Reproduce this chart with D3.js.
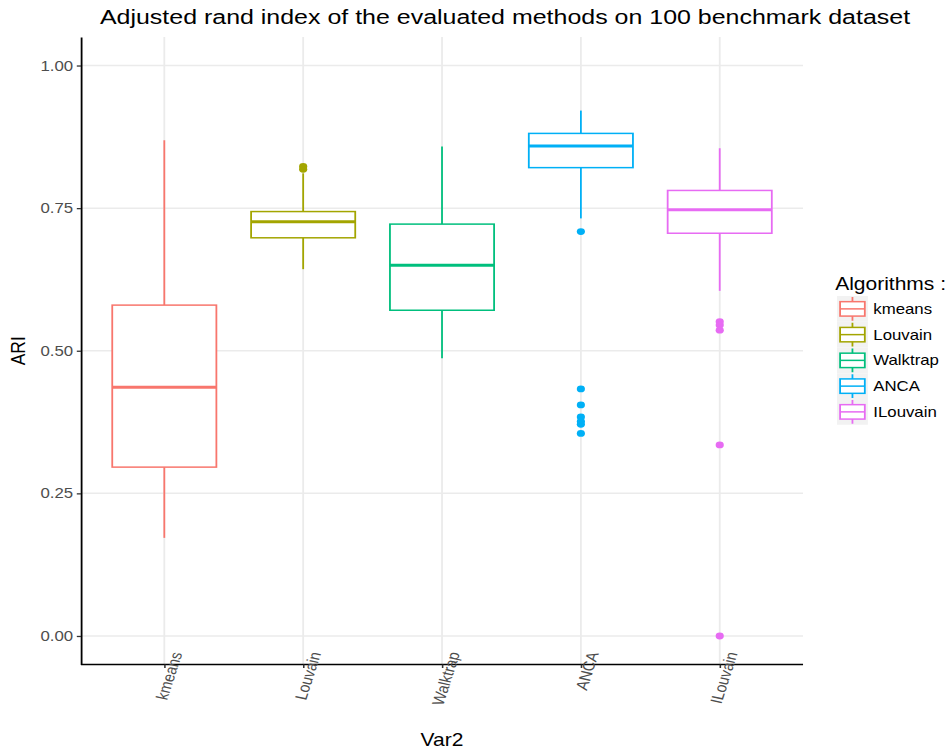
<!DOCTYPE html>
<html>
<head>
<meta charset="utf-8">
<script src="https://cdn.jsdelivr.net/npm/d3@7"></script>
<style>
  html, body { margin: 0; padding: 0; background: #fff; }
  svg { display: block; }
  text { font-family: "Liberation Sans", Arial, Helvetica, sans-serif; }
</style>
</head>
<body>
<svg id="chart" width="951" height="751"></svg>
<script>
// ---- data ----
const categories = ["kmeans", "Louvain", "Walktrap", "ANCA", "ILouvain"];
const whiskerLow  = [0.172, 0.643, 0.487, 0.732, 0.605];
const q1          = [0.296, 0.698, 0.571, 0.821, 0.706];
const median      = [0.436, 0.726, 0.650, 0.859, 0.747];
const q3          = [0.580, 0.744, 0.722, 0.881, 0.781];
const whiskerHigh = [0.869, 0.811, 0.858, 0.921, 0.855];
const outliers = [
  [],
  [0.818, 0.823],
  [],
  [0.709, 0.433, 0.405, 0.384, 0.376, 0.371, 0.355],
  [0.551, 0.545, 0.536, 0.335, 0.000]
];
const colors = ["#F8766D", "#A3A500", "#00BF7D", "#00B0F6", "#E76BF3"];
const yTicks = [0, 0.25, 0.5, 0.75, 1.0];
const titleText = "Adjusted rand index of the evaluated methods on 100 benchmark dataset";
const xTitle = "Var2";
const yTitle = "ARI";
const legendTitle = "Algorithms :";

(function () {
// ---- layout (internal units; whole picture stretched horizontally) ----
const SX = 1.2;
const pLeft = 67.5, pRight = 669.2, pTop = 37, pBottom = 664.5;

const svg = d3.select("#chart");
const g = svg.append("g").attr("transform", `scale(${SX},1)`);

const x = d3.scalePoint().domain(categories).range([pLeft, pRight]).padding(0.6);
const y = d3.scaleLinear().domain([-0.05, 1.05]).range([pBottom, pTop]);
const step = x.step();
const halfW = step * 0.375;

// gridlines
g.append("g").selectAll("line").data(yTicks).join("line")
  .attr("x1", pLeft).attr("x2", pRight)
  .attr("y1", d => y(d)).attr("y2", d => y(d))
  .attr("stroke", "#EBEBEB").attr("stroke-width", 1.5);
g.append("g").selectAll("line").data(categories).join("line")
  .attr("x1", d => x(d)).attr("x2", d => x(d))
  .attr("y1", pTop).attr("y2", pBottom)
  .attr("stroke", "#EBEBEB").attr("stroke-width", 1.5);

// boxes
const rows = categories.map((c, i) => ({
  c, i, lo: whiskerLow[i], q1: q1[i], med: median[i], q3: q3[i], hi: whiskerHigh[i],
  out: outliers[i], col: colors[i]
}));
const bg = g.append("g").selectAll("g").data(rows).join("g");
bg.append("line")
  .attr("x1", d => x(d.c)).attr("x2", d => x(d.c))
  .attr("y1", d => y(d.hi)).attr("y2", d => y(d.q3))
  .attr("stroke", d => d.col).attr("stroke-width", 1.5);
bg.append("line")
  .attr("x1", d => x(d.c)).attr("x2", d => x(d.c))
  .attr("y1", d => y(d.q1)).attr("y2", d => y(d.lo))
  .attr("stroke", d => d.col).attr("stroke-width", 1.5);
bg.append("rect")
  .attr("x", d => x(d.c) - halfW).attr("width", halfW * 2)
  .attr("y", d => y(d.q3)).attr("height", d => y(d.q1) - y(d.q3))
  .attr("fill", "#fff").attr("stroke", d => d.col).attr("stroke-width", 1.5);
bg.append("line")
  .attr("x1", d => x(d.c) - halfW).attr("x2", d => x(d.c) + halfW)
  .attr("y1", d => y(d.med)).attr("y2", d => y(d.med))
  .attr("stroke", d => d.col).attr("stroke-width", 3);
bg.selectAll("circle").data(d => d.out.map(v => ({v, c: d.c, col: d.col}))).join("circle")
  .attr("cx", d => x(d.c)).attr("cy", d => y(d.v)).attr("r", 3.4)
  .attr("fill", d => d.col);

// axes
const yAxis = g.append("g").attr("transform", `translate(${pLeft},0)`)
  .call(d3.axisLeft(y).tickValues(yTicks).tickFormat(d3.format(".2f")).tickSize(3.5).tickPadding(3).tickSizeOuter(0));
yAxis.select(".domain").attr("stroke", "#000").attr("stroke-width", 1.5);
yAxis.selectAll(".tick line").attr("stroke", "#333").attr("stroke-width", 1.3);
yAxis.selectAll(".tick text").attr("font-size", 14).attr("fill", "#4D4D4D")
  .attr("font-family", "Liberation Sans, Arial, sans-serif");

const xAxis = g.append("g").attr("transform", `translate(0,${pBottom})`)
  .call(d3.axisBottom(x).tickSize(3.5).tickSizeOuter(0));
xAxis.select(".domain").attr("stroke", "#000").attr("stroke-width", 1.5)
  .attr("d", `M${pLeft},0H${pRight}`);
xAxis.selectAll(".tick line").attr("stroke", "#333").attr("stroke-width", 1.3);
xAxis.selectAll(".tick text")
  .attr("font-size", 14).attr("fill", "#4D4D4D")
  .attr("font-family", "Liberation Sans, Arial, sans-serif")
  .attr("x", 0).attr("y", 0).attr("dy", null)
  .attr("text-anchor", "end")
  .attr("transform", "translate(14.5,-11) rotate(-75)");

// titles
g.append("text").attr("x", 505 / SX).attr("y", 24)
  .attr("text-anchor", "middle").attr("font-size", 20.8).attr("fill", "#000")
  .text(titleText);
g.append("text").attr("x", (pLeft + pRight) / 2).attr("y", 746)
  .attr("text-anchor", "middle").attr("font-size", 17.5).attr("fill", "#000")
  .text(xTitle);
g.append("text")
  .attr("transform", `translate(${25 / SX},${(pTop + pBottom) / 2}) rotate(-90)`)
  .attr("text-anchor", "middle").attr("font-size", 17.5).attr("fill", "#000")
  .text(yTitle);

// legend
const lx = 697.5, ly0 = 296, ks = 25.75;
const leg = g.append("g");
leg.append("text").attr("x", lx - 1.5).attr("y", 290)
  .attr("font-size", 17.5).attr("fill", "#000").text(legendTitle);
const li = leg.selectAll("g.item").data(rows).join("g").attr("class", "item")
  .attr("transform", (d, i) => `translate(${lx},${ly0 + i * ks})`);
li.append("rect").attr("width", ks).attr("height", ks).attr("fill", "#F2F2F2");
li.append("line").attr("x1", ks / 2).attr("x2", ks / 2).attr("y1", 1).attr("y2", ks - 1)
  .attr("stroke", d => d.col).attr("stroke-width", 1.5);
li.append("rect").attr("x", ks * 0.1).attr("width", ks * 0.8)
  .attr("y", ks * 0.22).attr("height", ks * 0.56)
  .attr("fill", "#fff").attr("stroke", d => d.col).attr("stroke-width", 1.5);
li.append("line").attr("x1", ks * 0.1).attr("x2", ks * 0.9)
  .attr("y1", ks / 2).attr("y2", ks / 2)
  .attr("stroke", d => d.col).attr("stroke-width", 1.5);
li.append("text").attr("x", ks + 4.5).attr("y", ks / 2).attr("dy", "0.36em")
  .attr("font-size", 14).attr("fill", "#000").text(d => d.c);
})();
</script>
</body>
</html>
